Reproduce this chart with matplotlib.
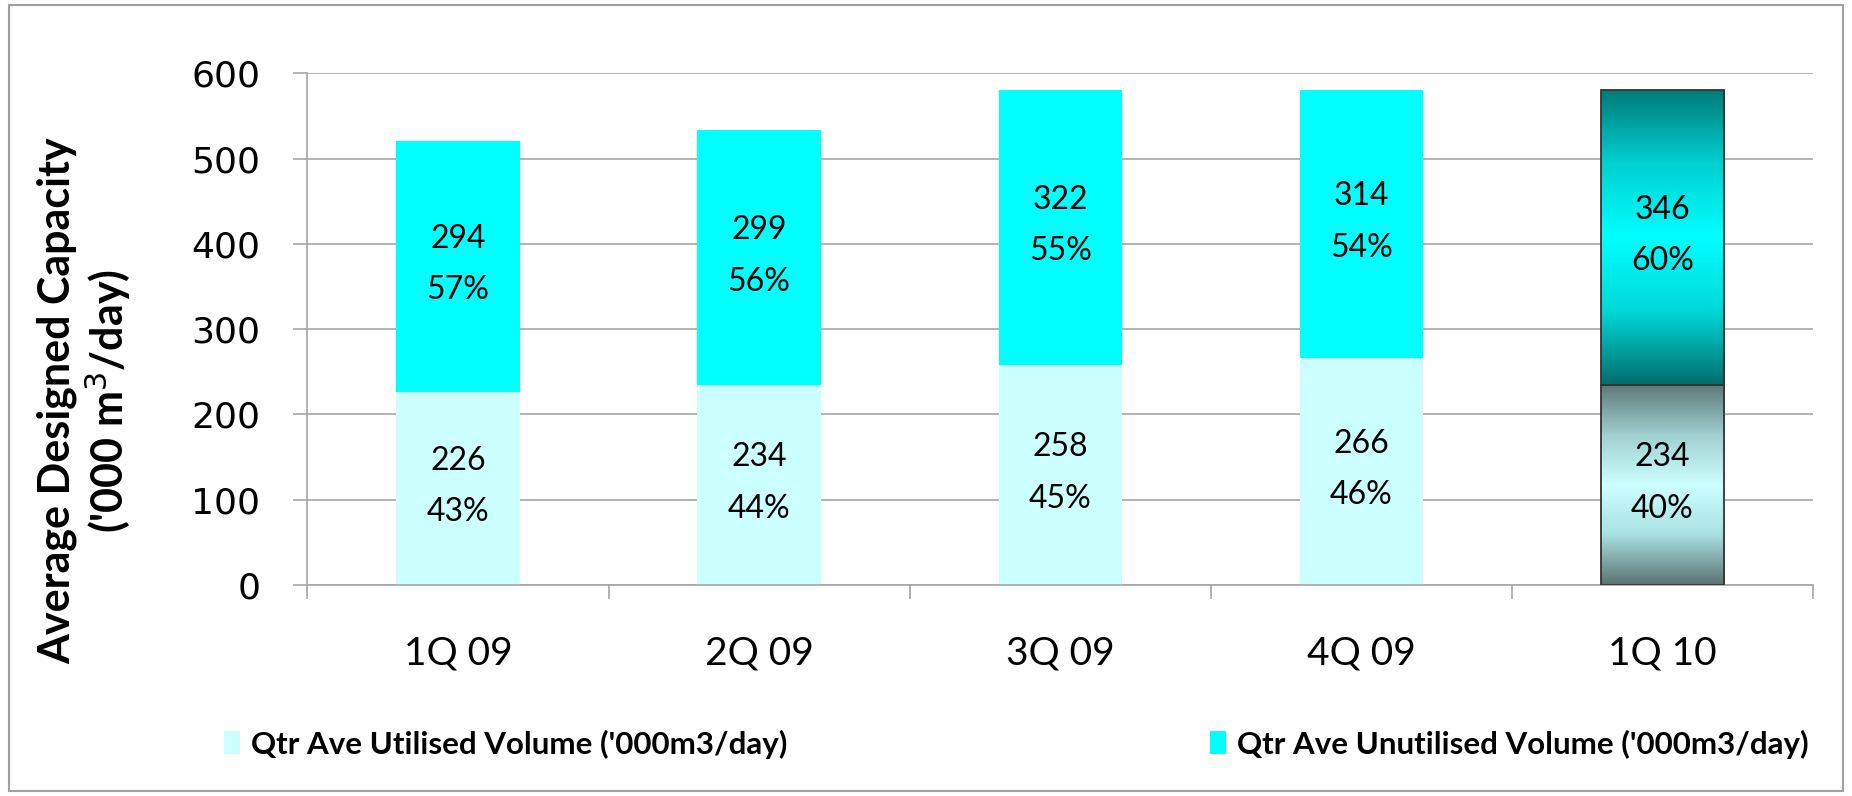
import numpy as np
import matplotlib
matplotlib.use("Agg")
import matplotlib.pyplot as plt
from matplotlib.colors import LinearSegmentedColormap
from matplotlib.patches import Rectangle

# data
quarters = ["1Q 09", "2Q 09", "3Q 09", "4Q 09", "1Q 10"]
utilised = [226, 234, 258, 266, 234]
unutilised = [294, 299, 322, 314, 346]
utilised_pct = ["43%", "44%", "45%", "46%", "40%"]
unutilised_pct = ["57%", "56%", "55%", "54%", "60%"]
legend_labels = ["Qtr Ave Utilised Volume ('000m3/day)",
                 "Qtr Ave Unutilised Volume ('000m3/day)"]

c_util = "#ccffff"
c_unutil = "#00ffff"
grid_c = "#a6a6a6"
label_font = "Lato"

fig = plt.figure(figsize=(18.52, 7.96), dpi=100)
fig.patches.append(Rectangle((0.005, 0.006), 0.99, 0.988, transform=fig.transFigure,
                             fill=False, edgecolor="#a0a0a0", linewidth=1.5))
ax = fig.add_axes([0.166, 0.265, 0.813, 0.643])

x = np.arange(len(quarters))
width = 0.41
b1 = ax.bar(x, utilised, width, color=c_util, zorder=2, label=legend_labels[0])
b2 = ax.bar(x, unutilised, width, bottom=utilised, color=c_unutil, zorder=2,
            label=legend_labels[1])

# last bar gets a gradient fill
cm_top = LinearSegmentedColormap.from_list("top", ["#006e6c", "#00d8d8", "#00ffff", "#00d0d0", "#007a78"])
cm_bot = LinearSegmentedColormap.from_list("bot", ["#5a7270", "#a8e0e0", "#ccffff", "#a0d0d0", "#5f7a78"])
grad = np.linspace(0, 1, 256).reshape(-1, 1)
for bar, cmap in [(b1[-1], cm_bot), (b2[-1], cm_top)]:
    x0, y0 = bar.get_x(), bar.get_y()
    w, h = bar.get_width(), bar.get_height()
    im = ax.imshow(grad, cmap=cmap, aspect="auto", extent=[x0, x0 + w, y0, y0 + h],
                   origin="lower", zorder=2.5, interpolation="bilinear")
    im.set_clip_path(bar)
    ax.add_patch(Rectangle((x0, y0), w, h, fill=False, edgecolor="#333333",
                           linewidth=1.3, zorder=3))

# value + percent labels
for i in range(len(quarters)):
    mids = [utilised[i] / 2, utilised[i] + unutilised[i] / 2]
    vals = [utilised[i], unutilised[i]]
    pcts = [utilised_pct[i], unutilised_pct[i]]
    for m, v, p in zip(mids, vals, pcts):
        ax.annotate(str(v), (x[i], m), xytext=(0, 20), textcoords="offset points",
                    ha="center", va="center", fontsize=23, family=label_font, zorder=4)
        ax.annotate(p, (x[i], m), xytext=(0, -17), textcoords="offset points",
                    ha="center", va="center", fontsize=23, family=label_font, zorder=4)

ax.set_xlim(-0.5, len(quarters) - 0.5)
ax.set_ylim(0, 600)
ax.set_yticks(np.arange(0, 601, 100))
ax.yaxis.grid(True, color=grid_c, linewidth=1.2, zorder=0)
ax.set_axisbelow(True)
for s in ["top", "right"]:
    ax.spines[s].set_visible(False)
for s in ["left", "bottom"]:
    ax.spines[s].set_color(grid_c)
    ax.spines[s].set_linewidth(1.2)

ax.tick_params(axis="y", direction="out", length=10, width=1.2, color=grid_c,
               labelsize=26, pad=24)
ax.set_xticks(x)
ax.set_xticklabels(quarters, fontsize=28, family=label_font)
ax.set_xticks(np.arange(-0.5, len(quarters)), minor=True)
ax.tick_params(axis="x", which="major", length=0, pad=36)
ax.tick_params(axis="x", which="minor", direction="out", length=10, width=1.2, color=grid_c)

fig.text(0.046, 0.496, "Average Designed Capacity\n('000 m$^{3}$/day)", rotation=90,
         ha="center", va="center", multialignment="center", fontsize=31,
         fontweight="bold", family=label_font, linespacing=1.15)

# two legend entries placed separately, as in the reference
for h, lab, xa in [(b1[0], legend_labels[0], 0.121), (b2[0], legend_labels[1], 0.6536)]:
    fig.legend(handles=[h], labels=[lab], loc="center left", bbox_to_anchor=(xa, 0.065),
               frameon=False, borderaxespad=0, borderpad=0,
               prop={"family": label_font, "weight": "bold", "size": 22.5},
               handlelength=0.5, handleheight=0.75, handletextpad=0.35)

fig.savefig("out.png", dpi=100)
